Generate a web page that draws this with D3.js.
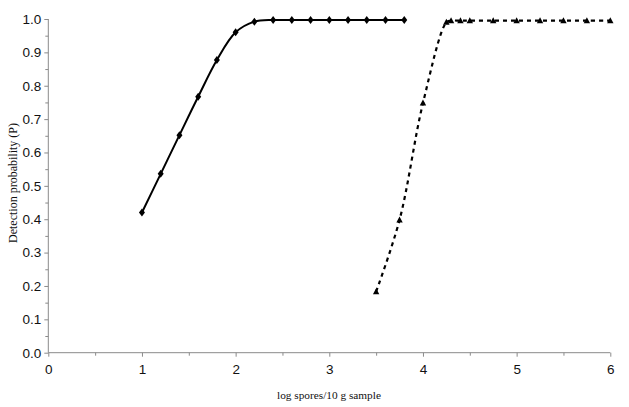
<!DOCTYPE html>
<html><head><meta charset="utf-8">
<script src="https://cdn.jsdelivr.net/npm/d3@7/dist/d3.min.js"></script>
<style>body{margin:0;background:#fff}svg{display:block}</style>
</head><body>
<svg id="c" width="629" height="407"></svg>
<script>
const s1x = [1.0,1.2,1.4,1.6,1.8,2.0,2.2,2.4,2.6,2.8,3.0,3.2,3.4,3.6,3.8];
const s1y = [0.42,0.536,0.652,0.767,0.877,0.960,0.992,0.997,0.997,0.997,0.997,0.997,0.997,0.997,0.997];
const s2x = [3.5,3.75,4.0,4.25,4.3,4.4,4.5,4.75,5.0,5.25,5.5,5.75,6.0];
const s2y = [0.183,0.398,0.748,0.99,0.995,0.995,0.995,0.995,0.995,0.995,0.995,0.995,0.995];
const xTicks = [0,1,2,3,4,5,6];
const yTicks = [0,0.1,0.2,0.3,0.4,0.5,0.6,0.7,0.8,0.9,1.0];

const svg = d3.select("#c");
const x = d3.scaleLinear().domain([0,6]).range([48.3,610.3]);
const y = d3.scaleLinear().domain([0,1]).range([352.7,19]);
const axisCol = "#8a8a8a";

// Y axis
const ya = svg.append("g").attr("transform",`translate(${x(0)},0)`)
  .call(d3.axisLeft(y).tickValues(yTicks).tickFormat(d3.format(".1f")).tickSize(4).tickPadding(3));
ya.selectAll("line,path").attr("stroke",axisCol);
ya.select(".domain").attr("d",`M0,${y(0)}V${y(1)}`);
ya.selectAll("text").attr("font-family","Liberation Sans, Arial, sans-serif").attr("font-size",13.5).attr("fill","#111");
svg.append("g").attr("transform",`translate(${x(0)},0)`)
  .call(d3.axisLeft(y).tickValues(d3.range(0.05,1,0.1)).tickFormat("").tickSize(3))
  .call(g=>g.select(".domain").remove())
  .selectAll("line").attr("stroke",axisCol);

// X axis
const xa = svg.append("g").attr("transform",`translate(0,${y(0)})`)
  .call(d3.axisBottom(x).tickValues(xTicks).tickFormat(d3.format("d")).tickSize(4).tickPadding(8));
xa.selectAll("line,path").attr("stroke",axisCol);
xa.select(".domain").attr("d",`M${x(0)},0H${x(6)}`);
xa.selectAll("text").attr("font-family","Liberation Sans, Arial, sans-serif").attr("font-size",13.5).attr("fill","#111");
svg.append("g").attr("transform",`translate(0,${y(0)})`)
  .call(d3.axisBottom(x).tickValues([0.5,1.5,2.5,3.5,4.5,5.5]).tickFormat("").tickSize(3))
  .call(g=>g.select(".domain").remove())
  .selectAll("line").attr("stroke",axisCol);

// Titles
svg.append("text").attr("x",329).attr("y",399).attr("text-anchor","middle")
  .attr("font-family","Liberation Serif, Times New Roman, serif").attr("font-size",11.3).attr("fill","#111")
  .text("log spores/10 g sample");
svg.append("text").attr("transform","translate(17,183) rotate(-90)").attr("text-anchor","middle")
  .attr("font-family","Liberation Serif, Times New Roman, serif").attr("font-size",12).attr("fill","#111")
  .text("Detection probability (P)");

const d1 = s1x.map((v,i)=>[v,s1y[i]]);
const d2 = s2x.map((v,i)=>[v,s2y[i]]);
const line = d3.line().x(d=>x(d[0])).y(d=>y(d[1])).curve(d3.curveCatmullRom.alpha(0.5));

svg.append("path").datum(d1).attr("d",line).attr("fill","none").attr("stroke","#000").attr("stroke-width",2);
svg.append("path").datum(d2).attr("d",line)
  .attr("fill","none").attr("stroke","#000").attr("stroke-width",2.2).attr("stroke-dasharray","4,4");

svg.append("g").selectAll("path").data(d1).join("path")
  .attr("transform",d=>`translate(${x(d[0])},${y(d[1])})`)
  .attr("d","M0,-4L3,0L0,4L-3,0Z").attr("fill","#000");
svg.append("g").selectAll("path").data(d2).join("path")
  .attr("transform",d=>`translate(${x(d[0])},${y(d[1])})`)
  .attr("d","M0,-3.5L3.2,2.5L-3.2,2.5Z").attr("fill","#000");
</script>
</body></html>
